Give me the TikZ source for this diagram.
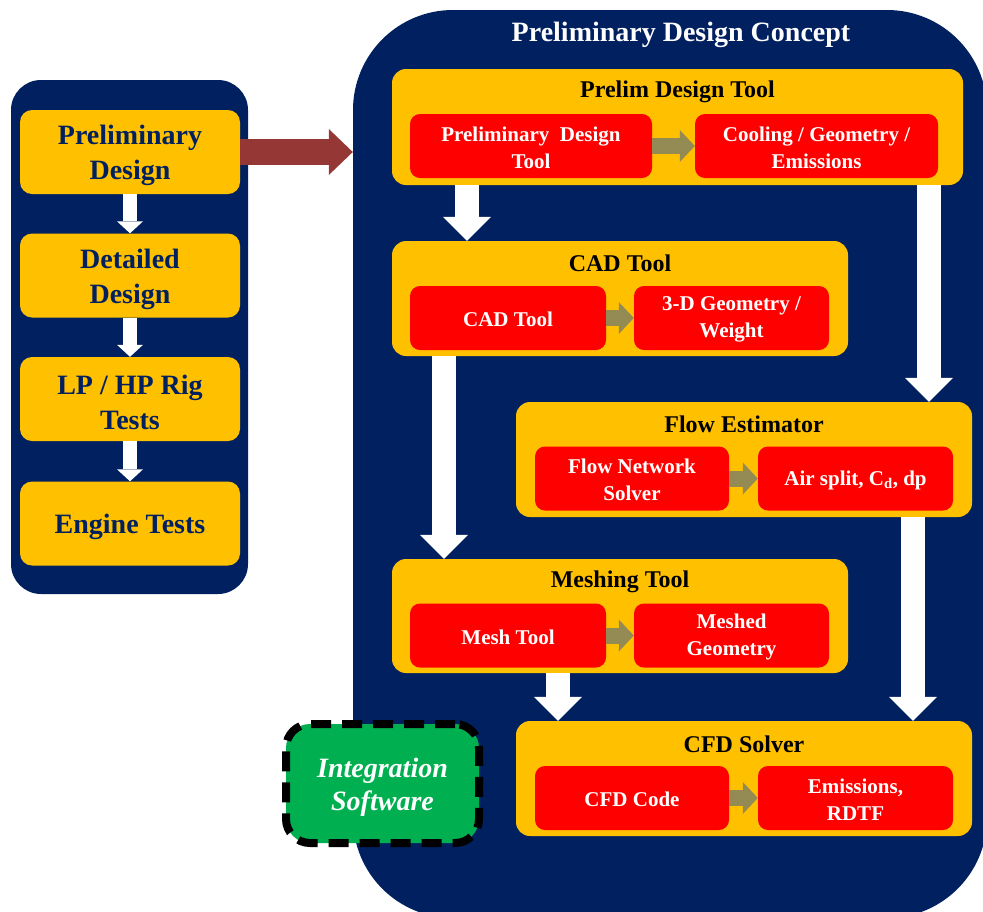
\documentclass[tikz,border=0pt]{standalone}
\usepackage{fontspec}
\setmainfont{Liberation Serif}
\usetikzlibrary{arrows.meta}
\definecolor{navy}{HTML}{002060}
\definecolor{ppyellow}{HTML}{FFC000}
\definecolor{ppred}{HTML}{FF0000}
\definecolor{olivearr}{HTML}{948A54}
\definecolor{brick}{HTML}{953735}
\definecolor{ppgreen}{HTML}{00B050}
\begin{document}
\begin{tikzpicture}[x=1pt,y=-1pt,
 panel/.style={fill=navy, inner sep=0pt},
 leftbox/.style={fill=ppyellow, rounded corners=12pt, minimum width=220pt, minimum height=84pt, inner sep=0pt},
 ltext/.style={inner sep=0pt, align=center, text=navy, yshift=-3.5pt, font=\fontsize{28}{35}\selectfont\bfseries},
 ybox/.style={fill=ppyellow, rounded corners=14pt, inner sep=0pt},
 ytitle/.style={font=\fontsize{24}{28}\selectfont\bfseries, text=black, inner sep=0pt},
 rbox/.style={fill=ppred, rounded corners=10pt, inner sep=0pt, minimum height=64pt},
 rtext/.style={inner sep=0pt, align=center, text=white, yshift=-1.5pt, font=\fontsize{21}{27}\selectfont\bfseries},
 bigarrow/.style={draw=white, line width=24pt, -{Triangle[width=48pt,length=24pt,line width=0pt]}},
 smallarrow/.style={draw=white, line width=14pt, -{Triangle[width=26pt,length=12pt,line width=0pt]}},
 oarrow/.style={draw=olivearr, line width=16pt, -{Triangle[width=32pt,length=15pt,line width=0pt]}},
 redarrow/.style={draw=brick, line width=26pt, -{Triangle[width=46pt,length=24pt,line width=0pt]}},
]
\useasboundingbox (0,0) rectangle (983,911);
\clip (0,0) rectangle (983,911);

% panels
\node[panel, rounded corners=30pt, minimum width=237pt, minimum height=514pt] (panelL) at (129.5,337) {};
\node[panel, rounded corners=100pt, minimum width=634pt, minimum height=908pt] (panelR) at (670,464) {};
\node[text=white, font=\fontsize{28}{30}\selectfont\bfseries, inner sep=0pt] (title) at (681,35) {Preliminary Design Concept};

% left column
\node[leftbox, label={[ltext]center:{Preliminary\\Design}}] (prelim) at (130,152) {};
\node[leftbox, label={[ltext]center:{Detailed\\Design}}] (detail) at (130,275.5) {};
\node[leftbox, label={[ltext]center:{LP / HP Rig\\Tests}}] (rig) at (130,399) {};
\node[leftbox, label={[ltext]center:{Engine Tests}}] (engine) at (130,523.5) {};
\draw[smallarrow] (prelim.south) -- (detail.north);
\draw[smallarrow] (detail.south) -- (rig.north);
\draw[smallarrow] (rig.south) -- (engine.north);

% red arrow
\draw[redarrow] (prelim.east) -- (prelim.east -| panelR.west);

% Prelim design tool
\node[ybox, minimum width=571pt, minimum height=116pt] (pdt) at (677.5,127) {};
\node[ytitle] (pdtT) at (677.5,92) {Prelim Design Tool};
\node[rbox, minimum width=242pt, label={[rtext]center:{Preliminary~ Design\\Tool}}] (pdtA) at (531,146) {};
\node[rbox, minimum width=243pt, label={[rtext]center:{Cooling / Geometry /\\Emissions}}] (pdtB) at (816.5,146) {};
\draw[oarrow] (pdtA.east) -- (pdtB.west);

% CAD tool
\node[ybox, minimum width=456pt, minimum height=115pt] (cad) at (620,298.5) {};
\node[ytitle] (cadT) at (620,263.5) {CAD Tool};
\node[rbox, minimum width=196pt, label={[rtext]center:{CAD Tool}}] (cadA) at (508,318) {};
\node[rbox, minimum width=195pt, label={[rtext]center:{3-D Geometry /\\Weight}}] (cadB) at (731.5,318) {};
\draw[oarrow] (cadA.east) -- (cadB.west);

% Flow estimator
\node[ybox, minimum width=456pt, minimum height=115pt] (flow) at (744,459.5) {};
\node[ytitle] (flowT) at (744,424.5) {Flow Estimator};
\node[rbox, minimum width=194pt, label={[rtext]center:{Flow Network\\Solver}}] (flowA) at (632,478.5) {};
\node[rbox, minimum width=195pt, label={[rtext]center:{Air split, C\textsubscript{d}, dp}}] (flowB) at (855.5,478.5) {};
\draw[oarrow] (flowA.east) -- (flowB.west);

% Meshing tool
\node[ybox, minimum width=456pt, minimum height=114pt] (mesh) at (620,616) {};
\node[ytitle] (meshT) at (620,581.5) {Meshing Tool};
\node[rbox, minimum width=196pt, label={[rtext]center:{Mesh Tool}}] (meshA) at (508,635.5) {};
\node[rbox, minimum width=195pt, label={[rtext]center:{Meshed\\Geometry}}] (meshB) at (731.5,635.5) {};
\draw[oarrow] (meshA.east) -- (meshB.west);

% CFD solver
\node[ybox, minimum width=456pt, minimum height=115pt] (cfd) at (744,778.5) {};
\node[ytitle] (cfdT) at (744,744.5) {CFD Solver};
\node[rbox, minimum width=194pt, label={[rtext]center:{CFD Code}}] (cfdA) at (632,798) {};
\node[rbox, minimum width=195pt, label={[rtext]center:{Emissions,\\RDTF}}] (cfdB) at (855.5,798) {};
\draw[oarrow] (cfdA.east) -- (cfdB.west);

% white flow arrows
\coordinate (x1) at (467,0);
\coordinate (x2) at (929,0);
\coordinate (x3) at (444,0);
\coordinate (x4) at (913,0);
\coordinate (x5) at (558,0);
\draw[bigarrow] (pdt.south -| x1) -- (cad.north -| x1);
\draw[bigarrow] (pdt.south -| x2) -- (flow.north -| x2);
\draw[bigarrow] (cad.south -| x3) -- (mesh.north -| x3);
\draw[bigarrow] (flow.south -| x4) -- (cfd.north -| x4);
\draw[bigarrow] (mesh.south -| x5) -- (cfd.north -| x5);

% Integration software
\node[fill=ppgreen, draw=black, line width=8pt, dash pattern=on 20pt off 11pt, rounded corners=24pt, minimum width=193pt, minimum height=119pt, inner sep=0pt, label={[inner sep=0pt, align=center, text=white, yshift=-4pt, font=\fontsize{28}{33}\selectfont\bfseries\itshape]center:{Integration\\Software}}] (integ) at (382.5,783.5) {};
\end{tikzpicture}
\end{document}
